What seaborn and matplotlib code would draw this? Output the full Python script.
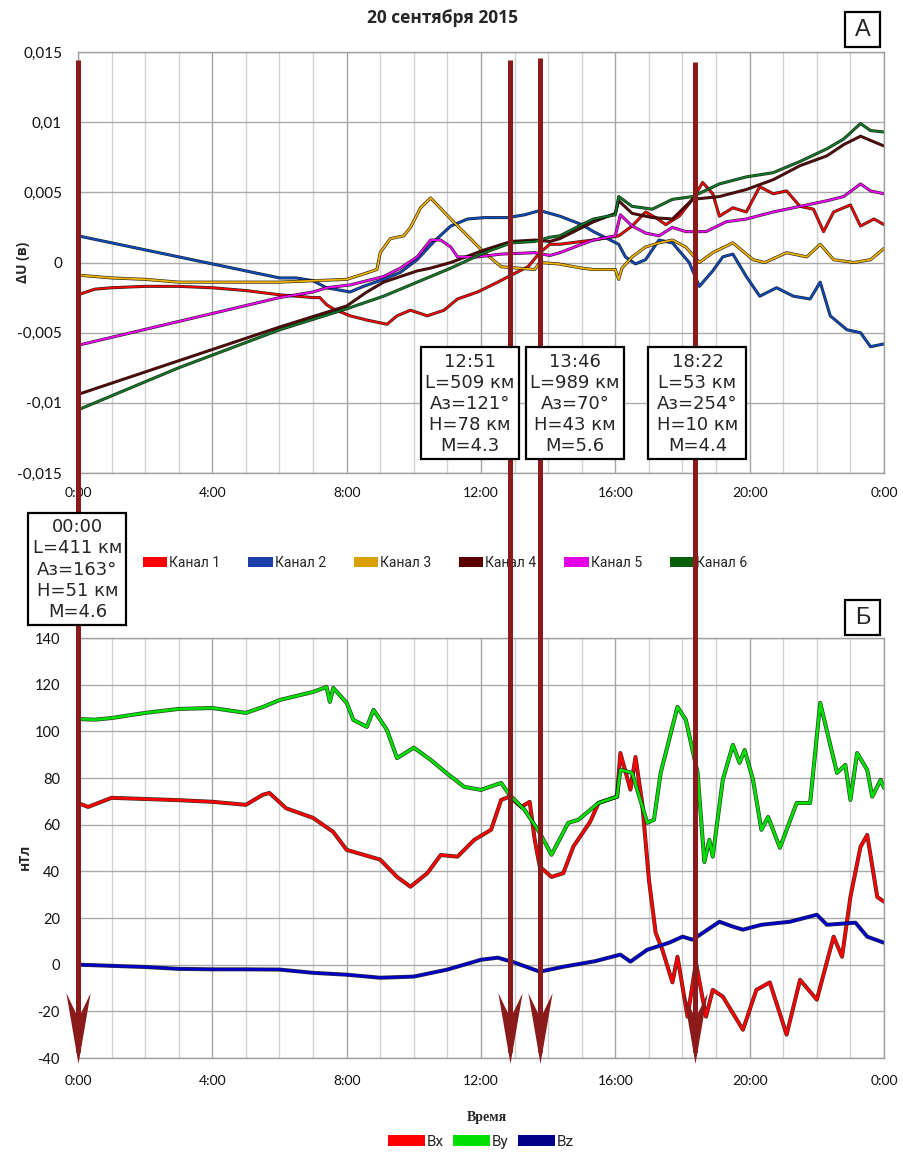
import numpy as np
import pandas as pd
import matplotlib
matplotlib.use("Agg")
import matplotlib.pyplot as plt
import seaborn as sns
from matplotlib import patheffects as pe
from matplotlib.patches import Rectangle, Patch
from matplotlib.lines import Line2D
from matplotlib.path import Path
from matplotlib.markers import MarkerStyle
import matplotlib.transforms as mtrans

# ---------------- data ----------------
title = "20 сентября 2015"
hour_ticks = [0, 4, 8, 12, 16, 20, 24]
hour_labels = ["0:00", "4:00", "8:00", "12:00", "16:00", "20:00", "0:00"]

top_yticks = [-0.015, -0.01, -0.005, 0, 0.005, 0.01, 0.015]
top_ylabels = ["-0,015", "-0,01", "-0,005", "0", "0,005", "0,01", "0,015"]
bot_yticks = [-40, -20, 0, 20, 40, 60, 80, 100, 120, 140]
bot_ylabels = ["-40", "-20", "0", "20", "40", "60", "80", "100", "120", "140"]

channels = ["Канал 1", "Канал 2", "Канал 3", "Канал 4", "Канал 5", "Канал 6"]
channel_colors = ["#FF0000", "#0A4BC0", "#F2B200", "#5C0505", "#FF00FF", "#0E7A22"]
legend_colors = ["#FF0000", "#1E3FAA", "#D8A000", "#5A0000", "#E600E6", "#0B5E0B"]

t1 = [0, 0.5, 1, 2, 3, 4, 5, 6, 7, 7.2, 7.4, 7.6, 8.1, 8.6, 9.2, 9.5, 9.9, 10.4, 10.9, 11.3,
      11.9, 12.5, 12.9, 13.4, 13.75, 14.05, 14.35, 15, 15.35, 16.1, 16.5, 16.9, 17.2, 17.5,
      17.9, 18.3, 18.6, 18.9, 19.1, 19.5, 19.9, 20.3, 20.7, 21.1, 21.5, 21.9, 22.2, 22.5, 23,
      23.3, 23.7, 24]
v1 = [-0.0023, -0.0019, -0.0018, -0.0017, -0.0017, -0.0018, -0.0020, -0.0023, -0.0025, -0.0025,
      -0.0030, -0.0033, -0.0038, -0.0041, -0.0044, -0.0038, -0.0034, -0.0038, -0.0034, -0.0026,
      -0.0021, -0.0014, -0.0009, -0.0003, 0.0007, 0.0013, 0.0013, 0.0015, 0.0016, 0.0019,
      0.0026, 0.0036, 0.0032, 0.0027, 0.0033, 0.0045, 0.0057, 0.0049, 0.0033, 0.0039, 0.0036,
      0.0054, 0.0049, 0.0051, 0.0040, 0.0038, 0.0022, 0.0036, 0.0041, 0.0026, 0.0031, 0.0027]

t2 = [0, 1, 2, 3, 4, 5, 6, 6.5, 7, 7.4, 8.1, 8.5, 9.1, 9.6, 10.1, 10.6, 11.1, 11.6, 12.1, 12.8,
      13.3, 13.75, 14.35, 15, 15.35, 16.1, 16.3, 16.6, 16.9, 17.3, 17.7, 18.2, 18.5, 18.9, 19.2,
      19.5, 19.9, 20.3, 20.8, 21.3, 21.8, 22.1, 22.4, 22.9, 23.3, 23.6, 24]
v2 = [0.0019, 0.0014, 0.0009, 0.0004, -0.0001, -0.0006, -0.0011, -0.0011, -0.0013, -0.0018,
      -0.0021, -0.0017, -0.0012, -0.0007, 0.0002, 0.0015, 0.0026, 0.0031, 0.0032, 0.0032,
      0.0034, 0.0037, 0.0033, 0.0027, 0.0022, 0.0013, 0.0004, -0.0001, 0.0002, 0.0016,
      0.0014, 0.0000, -0.0017, -0.0006, 0.0004, 0.0006, -0.0010, -0.0024, -0.0018, -0.0024,
      -0.0026, -0.0014, -0.0038, -0.0048, -0.0050, -0.0060, -0.0058]

t3 = [0, 1, 2, 3, 4, 5, 6, 7, 8, 8.4, 8.9, 9.0, 9.3, 9.7, 9.9, 10.2, 10.5, 11.1, 11.6, 12.1,
      12.6, 13.1, 13.6, 13.75, 14.3, 15, 15.35, 16.0, 16.1, 16.2, 16.5, 16.9, 17.3, 17.7, 18.1,
      18.5, 18.9, 19.5, 20.1, 20.45, 21.1, 21.7, 22.1, 22.5, 23.1, 23.6, 24]
v3 = [-0.0009, -0.0011, -0.0012, -0.0014, -0.0014, -0.0014, -0.0014, -0.0013, -0.0012, -0.0009,
      -0.0005, 0.0007, 0.0017, 0.0019, 0.0025, 0.0039, 0.0046, 0.0031, 0.0019, 0.0007,
      -0.0003, -0.0004, -0.0005, 0.0000, -0.0001, -0.0004, -0.0005, -0.0005, -0.0012, -0.0004,
      0.0004, 0.0011, 0.0014, 0.0016, 0.0011, 0.0000, 0.0007, 0.0014, 0.0002, 0.0000,
      0.0007, 0.0004, 0.0013, 0.0002, 0.0000, 0.0002, 0.0010]

t4 = [0, 2, 4, 6, 8, 8.6, 9.1, 9.6, 10.1, 10.5, 11.1, 12.1, 12.9, 13.6, 14.05, 14.35, 15.35,
      16.0, 16.1, 16.5, 17.1, 17.7, 18.3, 19.1, 19.9, 20.7, 21.5, 22.3, 22.8, 23.3, 23.6, 24]
v4 = [-0.0094, -0.0078, -0.0062, -0.0046, -0.0031, -0.0021, -0.0014, -0.0010, -0.0006, -0.0004,
      0.0000, 0.0009, 0.0015, 0.0016, 0.0015, 0.0017, 0.0029, 0.0035, 0.0044, 0.0035,
      0.0032, 0.0031, 0.0045, 0.0047, 0.0052, 0.0059, 0.0069, 0.0076, 0.0084, 0.0090,
      0.0087, 0.0083]

t5 = [0, 3, 6, 7, 7.4, 8.1, 9.1, 9.6, 10.1, 10.5, 10.8, 11.1, 11.3, 11.9, 12.6, 13.6, 14.05,
      14.35, 15, 15.35, 16.0, 16.15, 16.5, 16.9, 17.3, 17.7, 18.1, 18.7, 19.3, 19.9, 20.7, 21.5,
      22.3, 22.8, 23.3, 23.6, 24]
v5 = [-0.0059, -0.0042, -0.0025, -0.0021, -0.0018, -0.0016, -0.0010, -0.0004, 0.0004, 0.0016,
      0.0016, 0.0011, 0.0004, 0.0004, 0.0006, 0.0007, 0.0005, 0.0007, 0.0013, 0.0016,
      0.0019, 0.0034, 0.0026, 0.0021, 0.0019, 0.0025, 0.0022, 0.0022, 0.0029, 0.0031,
      0.0036, 0.0040, 0.0044, 0.0047, 0.0056, 0.0051, 0.0049]

t6 = [0, 3, 6, 8, 9.1, 10.1, 11.1, 12.1, 12.9, 13.6, 14.05, 14.35, 15, 15.35, 16.0, 16.1, 16.5,
      17.1, 17.7, 18.3, 19.1, 19.9, 20.7, 21.5, 22.3, 22.8, 23.3, 23.6, 24]
v6 = [-0.0105, -0.0075, -0.0048, -0.0033, -0.0024, -0.0014, -0.0004, 0.0007, 0.0014, 0.0015,
      0.0018, 0.0019, 0.0027, 0.0031, 0.0034, 0.0047, 0.0040, 0.0038, 0.0045, 0.0047,
      0.0056, 0.0061, 0.0064, 0.0072, 0.0081, 0.0088, 0.0099, 0.0094, 0.0093]

components = ["Bx", "By", "Bz"]
component_colors = ["#FF0000", "#00E000", "#0000C8"]
legend_b_colors = ["#FF0000", "#00E000", "#00008B"]

tx = [0, 0.3, 1, 2, 3, 4, 5, 5.5, 5.7, 6.2, 7, 7.6, 8, 9, 9.5, 9.9, 10.4, 10.8, 11.3, 11.8,
      12.3, 12.6, 12.85, 13.2, 13.45, 13.6, 13.75, 14.1, 14.45, 14.75, 15.25, 15.5, 16.05,
      16.15, 16.45, 16.6, 16.8, 17.0, 17.2, 17.4, 17.7, 17.85, 18.15, 18.4, 18.7, 18.9, 19.2,
      19.8, 20.2, 20.6, 21.1, 21.5, 22.0, 22.5, 22.75, 23.0, 23.3, 23.5, 23.8, 24]
bx = [69.3, 67.6, 71.5, 71, 70.5, 69.8, 68.5, 72.8, 73.6, 67, 62.9, 56.9, 49.2, 45, 37.6, 33.4,
      39.2, 47, 46.3, 53.5, 57.8, 70.6, 72, 67.6, 69.8, 53.5, 42, 37.6, 39.2, 50.6, 61.2, 69.3,
      72, 90.7, 75, 89, 69.3, 36.4, 13.7, 6.4, -7.6, 3.4, -22.3, 0.9, -22.3, -10.8, -13.7,
      -27.9, -10.8, -7.6, -30, -6.5, -15, 12, 3.4, 29, 50.5, 55.6, 29, 27]

ty = [0, 0.5, 1, 2, 3, 4, 5, 5.5, 6, 7, 7.4, 7.5, 7.6, 8, 8.2, 8.6, 8.8, 9.2, 9.5, 10, 10.5, 11,
      11.5, 12, 12.6, 12.85, 13.3, 13.75, 14.1, 14.6, 14.9, 15.5, 16.05, 16.15, 16.5, 16.95,
      17.15, 17.35, 17.6, 17.85, 18.1, 18.45, 18.65, 18.8, 18.9, 19.2, 19.5, 19.7, 19.85, 20.1,
      20.35, 20.55, 20.9, 21.4, 21.8, 22.1, 22.6, 22.85, 23.0, 23.2, 23.5, 23.65, 23.9, 24]
by = [105.3, 105, 105.7, 107.9, 109.6, 110, 107.9, 110.4, 113.4, 116.9, 119, 112.6, 118.6,
      112.2, 104.9, 101.9, 109.2, 100.6, 88.5, 93, 87.8, 81.8, 76.2, 74.9, 77.9, 72.8, 66.3,
      56.5, 47.1, 60.8, 62.1, 69.3, 72, 83.5, 82.2, 60.8, 62.1, 82.2, 96.3, 110.5, 104.9, 82.2,
      44, 53.5, 46.3, 79.2, 94.2, 86.5, 92, 79.2, 57.8, 63.3, 50.1, 69.3, 69.3, 112.2, 82.2,
      85.6, 70.6, 90.7, 83.5, 72, 79.2, 75.8]

tz = [0, 1, 2, 3, 4, 5, 6, 7, 8, 9, 10, 11, 12, 12.5, 13, 13.75, 14.45, 15.4, 16.15, 16.45,
      16.95, 17.6, 18, 18.3, 19.1, 19.5, 19.8, 20.35, 21.2, 22, 22.3, 23.15, 23.5, 24]
bz = [0, -0.5, -1, -1.8, -2, -2, -2.1, -3.5, -4.3, -5.6, -5.1, -2.1, 2.1, 3, 0.9, -3, -0.9, 1.5,
      4.3, 1.3, 6.4, 9.4, 12, 10.7, 18.4, 16.3, 15, 17.1, 18.4, 21.4, 17.1, 18, 12, 9.4]

event_labels = ["00:00", "12:51", "13:46", "18:22"]
event_L = [411, 509, 989, 53]
event_Az = [163, 121, 70, 254]
event_H = [51, 78, 43, 10]
event_M = [4.6, 4.3, 5.6, 4.4]

# ---------------- layout ----------------
W, H = 904, 1153
sns.set_theme(style="white")
plt.rcParams["font.family"] = ["Lato", "DejaVu Sans"]
CYR = ["Open Sans", "DejaVu Sans"]

fig = plt.figure(figsize=(W / 100, H / 100), dpi=100)


def fx(px):
    return px / W


def fy(py):
    return 1 - py / H


ax1 = fig.add_axes([fx(78), fy(473), fx(884) - fx(78), fy(52) - fy(473)])
ax2 = fig.add_axes([fx(78), fy(1058), fx(884) - fx(78), fy(638) - fy(1058)])

top_df = pd.concat([
    pd.DataFrame({"t": t, "v": v, "ch": name})
    for t, v, name in zip([t1, t2, t3, t4, t5, t6], [v1, v2, v3, v4, v5, v6], channels)
])
bot_df = pd.concat([
    pd.DataFrame({"t": t, "v": v, "comp": name})
    for t, v, name in zip([tx, ty, tz], [bx, by, bz], components)
])

sns.lineplot(data=top_df, x="t", y="v", hue="ch", hue_order=channels,
             palette=dict(zip(channels, channel_colors)), estimator=None, sort=False,
             legend=False, ax=ax1, linewidth=1.3)
sns.lineplot(data=bot_df, x="t", y="v", hue="comp", hue_order=components,
             palette=dict(zip(components, component_colors)), estimator=None, sort=False,
             legend=False, ax=ax2, linewidth=2.0)

for ln in ax1.get_lines():
    ln.set_path_effects([pe.Stroke(linewidth=2.2, foreground="black", alpha=0.85), pe.Normal()])
for ln in ax2.get_lines():
    ln.set_path_effects([pe.Stroke(linewidth=2.9, foreground="black", alpha=0.8), pe.Normal()])


def style(ax, ylim, yticks, ylabels, xpad, ypad, ytick_size):
    ax.set_xlim(0, 24)
    ax.set_ylim(*ylim)
    ax.set_xticks(hour_ticks)
    ax.set_xticklabels(hour_labels)
    ax.set_xticks(range(25), minor=True)
    ax.set_yticks(yticks)
    ax.set_yticklabels(ylabels)
    ax.grid(which="minor", axis="x", color="#D2D2D2", lw=1)
    ax.grid(which="major", axis="x", color="#A4A4A4", lw=1)
    ax.grid(which="major", axis="y", color="#ABABAB", lw=1)
    ax.tick_params(which="both", length=0)
    ax.tick_params(axis="x", pad=xpad, labelsize=10, colors="#111111")
    ax.tick_params(axis="y", pad=ypad, labelsize=ytick_size, colors="#111111")
    ax.set_axisbelow(True)
    ax.set_xlabel("")
    for s in ax.spines.values():
        s.set_color("#A0A0A0")
        s.set_linewidth(1)


style(ax1, (-0.015, 0.015), top_yticks, top_ylabels, 10, 11.5, 11)
style(ax2, (-40, 140), bot_yticks, bot_ylabels, 12.5, 13, 10.5)

ax1.set_ylabel("ΔU (в)", fontsize=10, fontweight="bold", family=CYR)
ax1.yaxis.set_label_coords(-0.06, 0.5)
ax2.set_ylabel("нТл", fontsize=10, fontweight="bold", family=CYR)
ax2.yaxis.set_label_coords(-0.057, 0.48)

fig.text(fx(443), fy(18), title, ha="center", va="center", fontsize=12.5,
         fontweight="bold", family=CYR)

# panel labels
for lab, (x0, y0) in zip(["А", "Б"], [(845, 12), (845, 600)]):
    fig.add_artist(Rectangle((fx(x0), fy(y0 + 35)), fx(35), 35 / H, transform=fig.transFigure,
                             facecolor="white", edgecolor="black", lw=1.6, zorder=5))
    fig.text(fx(x0 + 17.5), fy(y0 + 18), lab, ha="center", va="center", fontsize=17,
             family=["Liberation Sans", "DejaVu Sans"], zorder=6)

# legends
leg1 = fig.legend(handles=[Patch(facecolor=c, edgecolor="none") for c in legend_colors],
                  labels=channels, loc="center", bbox_to_anchor=(fx(445), fy(563)), ncol=6,
                  frameon=False, handlelength=1.75, handleheight=0.65,
                  handletextpad=0.15, columnspacing=2.0,
                  prop={"family": ["Roboto", "DejaVu Sans"], "size": 10})
leg2 = fig.legend(handles=[Patch(facecolor=c, edgecolor="none") for c in legend_b_colors],
                  labels=components, loc="center", bbox_to_anchor=(fx(481), fy(1142)), ncol=3,
                  frameon=False, handlelength=2.4, handleheight=0.7,
                  handletextpad=0.15, columnspacing=0.6,
                  prop={"family": ["Roboto", "DejaVu Sans"], "size": 11})
fig.text(fx(487), fy(1118), "Время", ha="center", va="center", fontsize=10,
         fontweight="bold", family=["Liberation Serif", "DejaVu Serif"])

# event arrows
blend = mtrans.blended_transform_factory(ax1.transData, fig.transFigure)
event_hours = [int(s[:2]) + int(s[3:]) / 60 for s in event_labels]
shaft_top = [60, 60, 58, 62]
arrow_color = "#8B1A1A"
head_path = Path([(0, -35), (12, 35), (0, 10), (-12, 35), (0, -35)],
                 [Path.MOVETO, Path.LINETO, Path.LINETO, Path.LINETO, Path.CLOSEPOLY])
for h, top in zip(event_hours, shaft_top):
    fig.add_artist(Line2D([h, h], [fy(top), fy(1052)], transform=blend, color=arrow_color,
                          lw=3.6, solid_capstyle="butt", zorder=6))
    fig.add_artist(Line2D([h], [fy(1028)], transform=blend, marker=MarkerStyle(head_path),
                          markersize=51, color=arrow_color, markeredgewidth=0,
                          linestyle="none", zorder=6))

# info boxes
box_centers = [(77.5, 568.5), (470, 403), (575, 403), (697.5, 403)]
for (cx, cy), lab, L, az, hh, m in zip(box_centers, event_labels, event_L, event_Az, event_H, event_M):
    fig.add_artist(Rectangle((fx(cx - 49), fy(cy + 56)), fx(98), 112 / H,
                             transform=fig.transFigure, facecolor="white",
                             edgecolor="black", lw=1.6, zorder=7))
    txt = "\n".join([lab, f"L={L} км", f"Аз={az}°", f"H={hh} км", f"M={m}"])
    fig.text(fx(cx), fy(cy + 1), txt, ha="center", va="center", fontsize=13,
             linespacing=1.22, family=["DejaVu Sans"], zorder=8)

fig.savefig("out.png", dpi=100, facecolor="white")
